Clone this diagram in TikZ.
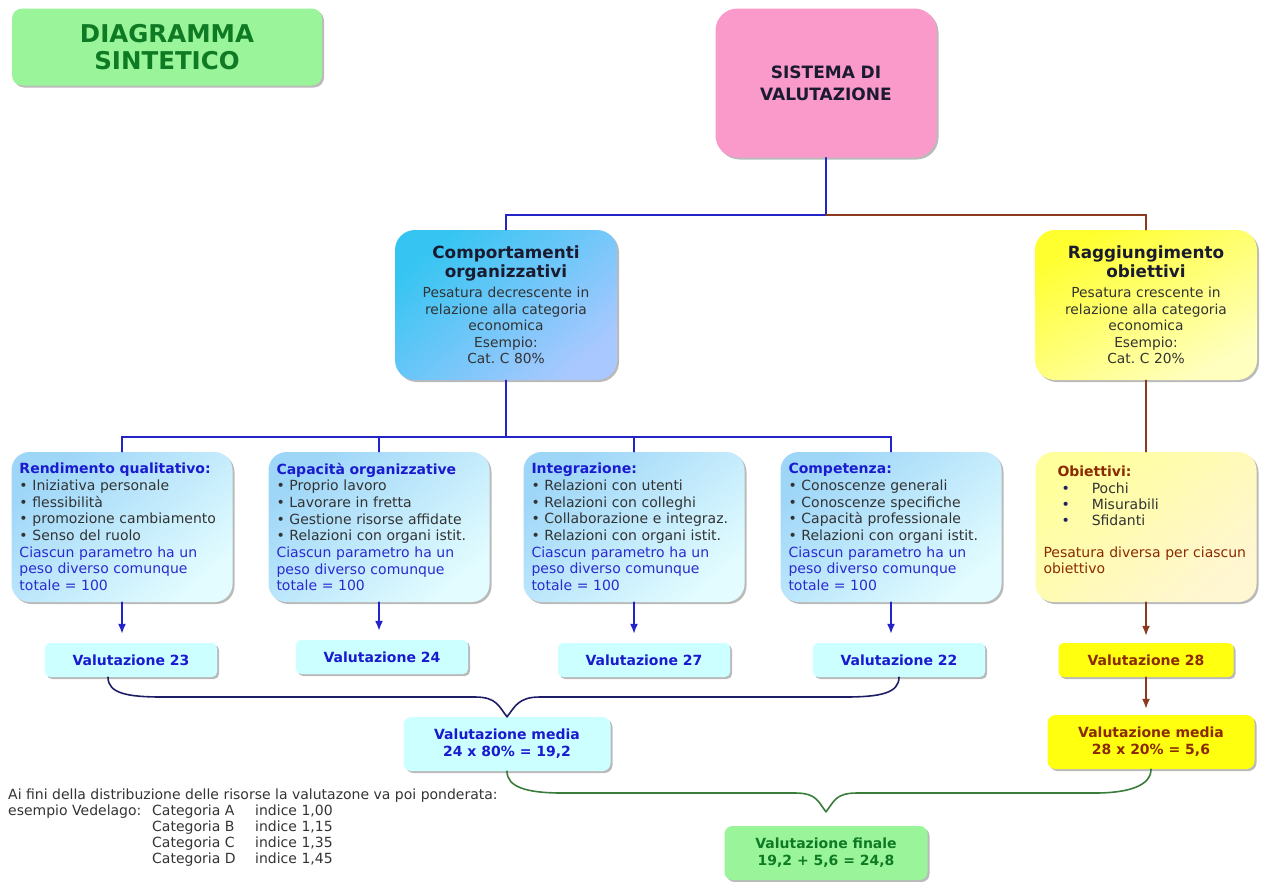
\documentclass[tikz,border=0pt]{standalone}
\usepackage{fontspec}
\setmainfont{DejaVu Sans}
\usepackage{tikz}
\usetikzlibrary{arrows.meta,shadows,calc}
\tikzset{>={Latex[length=10pt,width=8pt]}}
\frenchspacing

\definecolor{verdechiaro}{HTML}{9AF59A}
\definecolor{verdescuro}{HTML}{0E7A24}
\definecolor{rosa}{HTML}{F99ACB}
\definecolor{ciano1}{HTML}{36C5F2}
\definecolor{ciano2}{HTML}{A8C8FF}
\definecolor{giallo1}{HTML}{FFFF30}
\definecolor{giallo2}{HTML}{FFFFC0}
\definecolor{azzurro1}{HTML}{9ED6F8}
\definecolor{azzurro2}{HTML}{E2FCFF}
\definecolor{paglia1}{HTML}{FFFF9C}
\definecolor{paglia2}{HTML}{FFF6D2}
\definecolor{cianchiaro}{HTML}{CCFFFF}
\definecolor{gialloval}{HTML}{FFFF10}
\definecolor{blutit}{HTML}{1A1ACF}
\definecolor{blutesto}{HTML}{2A2AD0}
\definecolor{marrone}{HTML}{8B2A00}
\definecolor{lineablu}{HTML}{2323C8}
\definecolor{lineamarr}{HTML}{8B3A1E}
\definecolor{blunotte}{HTML}{1E1E66}
\definecolor{verdelinea}{HTML}{3A7D3A}
\definecolor{grigiot}{HTML}{333333}
\definecolor{nerot}{HTML}{1A1A30}

\newcommand{\voce}{\textbullet\ }

\tikzset{
  ombra/.style={drop shadow={shadow xshift=2pt,shadow yshift=-2pt,fill=black!60,opacity=.45}},
  titolobox/.style={ombra,rounded corners=10pt,fill=verdechiaro,text width=300pt,
    minimum height=77pt,inner xsep=5pt,align=center,text=verdescuro,
    font=\bfseries\fontsize{24.5}{27}\selectfont},
  sistbox/.style={ombra,rounded corners=22pt,fill=rosa,text width=213pt,
    minimum height=149pt,inner xsep=4pt,align=center,text=nerot,
    font=\bfseries\fontsize{17}{22}\selectfont},
  grandebox/.style={ombra,rounded corners=20pt,text width=214pt,minimum height=150pt,
    inner xsep=4pt,align=center,text=grigiot,font=\fontsize{13.8}{16.5}\selectfont},
  compbox/.style={grandebox,top color=ciano1,bottom color=ciano2,shading angle=40},
  raggbox/.style={grandebox,top color=giallo1,bottom color=giallo2,shading angle=30},
  voto/.style={ombra,rounded corners=18pt,text width=205pt,minimum height=150pt,
    inner xsep=8pt,align=left,text=grigiot,font=\fontsize{14}{16.7}\selectfont},
  parambox/.style={voto,top color=azzurro1,bottom color=azzurro2,shading angle=40},
  obiebox/.style={voto,top color=paglia1,bottom color=paglia2,shading angle=40,
    font=\fontsize{14}{16.3}\selectfont},
  valbox/.style={ombra,rounded corners=5pt,fill=cianchiaro,minimum width=172pt,
    minimum height=34pt,text=blutit,font=\bfseries\fontsize{14}{17}\selectfont},
  valgiallo/.style={valbox,fill=gialloval,text=marrone,minimum width=175pt},
  mediabox/.style={valbox,rounded corners=8pt,minimum width=207pt,minimum height=54pt,
    align=center},
  finalebox/.style={mediabox,fill=verdechiaro,text=verdescuro,minimum width=203pt},
  ramo/.style={lineablu,line width=1.3pt},
  ramomarr/.style={lineamarr,line width=1.3pt},
  graffa/.style={line width=1.6pt}
}

\begin{document}
\begin{tikzpicture}[x=1pt,y=-1pt,line cap=round]
  \useasboundingbox (0,0) rectangle (1266,881);

  % caselle in alto
  \node[titolobox] (titolo) at (167,47) {DIAGRAMMA\\SINTETICO};
  \node[sistbox] (sistema) at (826,83) {SISTEMA DI\\VALUTAZIONE};

  \node[compbox] (comp) at (506,305)
    {{\bfseries\color{nerot}\fontsize{16.8}{19}\selectfont Comportamenti\\organizzativi\par}
     \vspace{3.5pt}Pesatura decrescente in\\relazione alla categoria\\economica\\Esempio:\\Cat. C 80\%};
  \node[raggbox] (ragg) at (1146,305)
    {{\bfseries\color{nerot}\fontsize{16.8}{19}\selectfont Raggiungimento\\obiettivi\par}
     \vspace{3.5pt}Pesatura crescente in\\relazione alla categoria\\economica\\Esempio:\\Cat. C 20\%};

  % parametri
  \node[parambox] (rend) at (122,527)
    {{\bfseries\color{blutit}Rendimento qualitativo:}\\
     \voce Iniziativa personale\\\voce flessibilità\\\voce promozione cambiamento\\
     \voce Senso del ruolo\\
     {\color{blutesto}Ciascun parametro ha un\\peso diverso comunque\\totale = 100}};
  \node[parambox] (capa) at (379,527)
    {{\bfseries\color{blutit}Capacità organizzative}\\
     \voce Proprio lavoro\\\voce Lavorare in fretta\\\voce Gestione risorse affidate\\
     \voce Relazioni con organi istit.\\
     {\color{blutesto}Ciascun parametro ha un\\peso diverso comunque\\totale = 100}};
  \node[parambox] (integ) at (634,527)
    {{\bfseries\color{blutit}Integrazione:}\\
     \voce Relazioni con utenti\\\voce Relazioni con colleghi\\\voce Collaborazione e integraz.\\
     \voce Relazioni con organi istit.\\
     {\color{blutesto}Ciascun parametro ha un\\peso diverso comunque\\totale = 100}};
  \node[parambox] (compet) at (891,527)
    {{\bfseries\color{blutit}Competenza:}\\
     \voce Conoscenze generali\\\voce Conoscenze specifiche\\\voce Capacità professionale\\
     \voce Relazioni con organi istit.\\
     {\color{blutesto}Ciascun parametro ha un\\peso diverso comunque\\totale = 100}};
  \node[obiebox] (obiett) at (1146,527)
    {\hspace*{14pt}{\bfseries\color{marrone}Obiettivi:}\\
     \hspace*{18pt}{\color{blunotte}\textbullet}\hspace{22pt}Pochi\\
     \hspace*{18pt}{\color{blunotte}\textbullet}\hspace{22pt}Misurabili\\
     \hspace*{18pt}{\color{blunotte}\textbullet}\hspace{22pt}Sfidanti\\[15pt]
     {\color{marrone}Pesatura diversa per ciascun\\obiettivo}\par\vspace*{14pt}};

  % valutazioni
  \node[valbox] (v23) at (131,660) {Valutazione 23};
  \node[valbox] (v24) at (382,657) {Valutazione 24};
  \node[valbox] (v27) at (644,660) {Valutazione 27};
  \node[valbox] (v22) at (899,660) {Valutazione 22};
  \node[valgiallo] (v28) at (1146,660) {Valutazione 28};

  \node[mediabox] (medblu) at (507,744) {Valutazione media\\24 x 80\% = 19,2};
  \node[mediabox,fill=gialloval,text=marrone] (medgial) at (1151,742)
    {Valutazione media\\28 x 20\% = 5,6};
  \node[finalebox] (finale) at (826,853) {Valutazione finale\\19,2 + 5,6 = 24,8};

  % collegamenti
  \coordinate (nodo1) at (826,215);
  \draw[ramo] (sistema.south) -- (nodo1) -| (comp.north);
  \draw[ramomarr] (nodo1) -| (ragg.north);
  \coordinate (nodo2) at (506,437);
  \draw[ramo] (comp.south) -- (nodo2);
  \foreach \b in {rend,capa,integ,compet}
    \draw[ramo] (nodo2) -| (\b.north);
  \draw[ramomarr] (ragg.south) -- (obiett.north);

  \foreach \a/\b in {rend/v23,capa/v24,integ/v27,compet/v22}
    \draw[ramo,line width=1.6pt,->,shorten >=9pt] (\a.south) -- (\a.south |- \b.north);
  \draw[ramomarr,line width=1.6pt,->,shorten >=7pt] (obiett.south) -- (obiett.south |- v28.north);
  \draw[ramomarr,line width=1.6pt,->,shorten >=6pt] (v28.south) -- (v28.south |- medgial.north);

  % graffe
  \draw[graffa,blunotte] ([xshift=-23pt]v23.south) .. controls +(0,16) and +(-35,0) .. (162,697)
    -- (475,697) .. controls +(22,0) and +(-8,-10) .. (medblu.north);
  \draw[graffa,blunotte] (v22.south) .. controls +(0,16) and +(35,0) .. (845,697)
    -- (540,697) .. controls +(-22,0) and +(8,-10) .. (medblu.north);
  \coordinate (puntaverde) at ([yshift=14pt]finale.north);
  \draw[graffa,verdelinea] (medblu.south) .. controls +(0,16) and +(-35,0) .. (562,793)
    -- (795,793) .. controls +(22,0) and +(-8,-10) .. (puntaverde);
  \draw[graffa,verdelinea] (medgial.south) .. controls +(0,16) and +(35,0) .. (1095,793)
    -- (857,793) .. controls +(-22,0) and +(8,-10) .. (puntaverde);

  % nota
  \node[anchor=north west,inner sep=0pt,text=grigiot,font=\fontsize{14}{16}\selectfont] (nota) at (8,788)
    {\begin{tabular}{@{}p{144pt}@{}p{103pt}@{}l@{}}
      \multicolumn{3}{@{}l@{}}{Ai fini della distribuzione delle risorse la valutazone va poi ponderata:}\\
      esempio Vedelago: & Categoria A & indice 1,00\\
       & Categoria B & indice 1,15\\
       & Categoria C & indice 1,35\\
       & Categoria D & indice 1,45
    \end{tabular}};
\end{tikzpicture}
\end{document}
